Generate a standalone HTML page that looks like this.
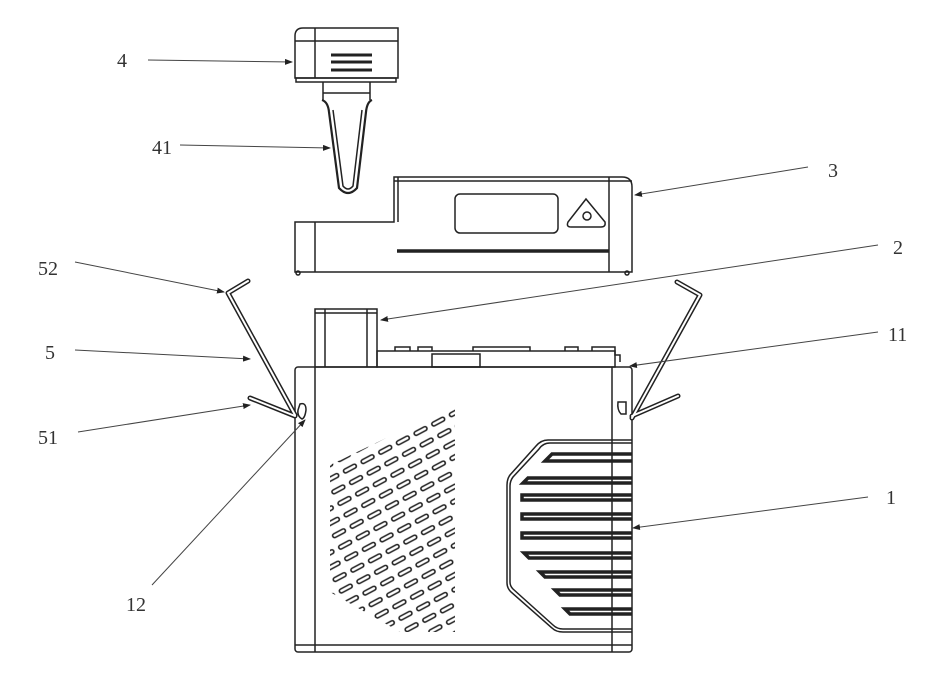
<!DOCTYPE html>
<html><head><meta charset="utf-8"><style>
html,body{margin:0;padding:0;background:#fff;}
svg{display:block;}
text{font-family:"Liberation Serif",serif;font-size:20px;fill:#333;}
</style></head><body>
<svg width="932" height="682" viewBox="0 0 932 682" xmlns="http://www.w3.org/2000/svg">
<defs>
<marker id="a" markerWidth="8" markerHeight="6" refX="7" refY="3" orient="auto"><path d="M0,0L8,3L0,6z" fill="#222"/></marker>
<pattern id="h" width="20" height="13" patternUnits="userSpaceOnUse" patternTransform="rotate(-28)">
<rect x="2" y="4" width="14" height="4" rx="2" fill="none" stroke="#222" stroke-width="1.6"/>
</pattern>
<clipPath id="hc"><polygon points="330,465 455,405 455,632 400,632 330,592"/></clipPath>
</defs>
<g fill="none" stroke="#222" stroke-width="1.5">
<!-- device 4 -->
<path d="M303,28 H398 V78 H295 V36 Q295,28 303,28Z"/>
<line x1="315" y1="28" x2="315" y2="78"/>
<line x1="295" y1="41" x2="398" y2="41"/>
<rect x="296" y="78" width="100" height="4"/>
<g stroke-width="3"><line x1="331" y1="55" x2="372" y2="55"/><line x1="331" y1="62" x2="372" y2="62"/><line x1="331" y1="70" x2="372" y2="70"/></g>
<path d="M323,82 V100 M370,82 V100 M323,93 H370"/>
<path d="M322,100 Q328,102 329,112 L339,188 Q348,198 357,188 L366,112 Q367,102 372,100" stroke-width="2.2"/>
<path d="M333,110 L343,186 Q348,192 353,186 L362,110"/>
<!-- device 3 -->
<path d="M394,177 H622 Q632,177 632,187 V272 H295 V222 H394 Z"/>
<line x1="394" y1="181" x2="632" y2="181"/>
<line x1="398" y1="177" x2="398" y2="222"/>
<line x1="315" y1="222" x2="315" y2="272"/>
<line x1="609" y1="177" x2="609" y2="272"/>
<rect x="455" y="194" width="103" height="39" rx="5"/>
<path d="M586,199 L605,222 Q606,227 601,227 H571 Q566,227 568,222Z"/>
<circle cx="587" cy="216" r="4"/>
<line x1="397" y1="251" x2="609" y2="251" stroke-width="3.5"/>
<circle cx="298" cy="273" r="2"/><circle cx="627" cy="273" r="2"/>
<!-- main box -->
<rect x="295" y="367" width="337" height="285" rx="3"/>
<line x1="315" y1="367" x2="315" y2="652"/>
<line x1="612" y1="367" x2="612" y2="652"/>
<line x1="295" y1="645" x2="632" y2="645"/>
<!-- part 2 -->
<rect x="315" y="309" width="62" height="58"/>
<line x1="315" y1="313" x2="377" y2="313"/>
<line x1="325" y1="309" x2="325" y2="367"/>
<line x1="367" y1="309" x2="367" y2="367"/>
<!-- top plate -->
<rect x="377" y="351" width="238" height="16"/>
<path d="M395,351 V347 H410 V351 M418,351 V347 H432 V351 M473,351 V347 H530 V351 M565,351 V347 H578 V351 M592,351 V347 H615 V355 H620 V362" />
<rect x="432" y="354" width="48" height="13"/>
<!-- hinges -->
<path d="M300,404 Q306,402 306,410 Q305,418 302,419 Q297,416 298,410Z"/>
<path d="M618,402 H626 L626,414 H621 Q617,410 618,402Z"/>
<!-- rods -->
<g stroke-width="5" stroke-linecap="round" stroke-linejoin="round">
<polyline points="248,281 228,293 295,415"/>
<line x1="250" y1="398" x2="295" y2="416"/>
<polyline points="677,282 700,295 632,418"/>
<line x1="678" y1="396" x2="632" y2="416"/>
</g>
<g stroke="#fff" stroke-width="2" stroke-linecap="round" stroke-linejoin="round">
<polyline points="248,281 228,293 295,415"/>
<line x1="250" y1="398" x2="295" y2="416"/>
<polyline points="677,282 700,295 632,418"/>
<line x1="678" y1="396" x2="632" y2="416"/>
</g>
<!-- right panel -->
<path d="M632,440 H548 Q541,440 536,446 L510,475 Q507,479 507,485 V583 Q507,588 511,592 L552,628 Q556,632 563,632 H632"/>
<path d="M632,443 H550 Q543,443 539,449 L513,477 Q510,481 510,486 V582 Q510,586 513,589 L553,625 Q557,629 563,629 H632"/>
<g stroke-width="3.5">
<path d="M632,454 H552 L545,461 H632"/>
<path d="M632,478 H528 L523,483 H632"/>
<path d="M632,495 H522 V500 H632"/>
<path d="M632,514 H522 V519 H632"/>
<path d="M632,533 H522 V538 H632"/>
<path d="M632,553 H524 L529,558 H632"/>
<path d="M632,572 H540 L545,577 H632"/>
<path d="M632,590 H555 L560,595 H632"/>
<path d="M632,609 H565 L570,614 H632"/>
</g>
</g>
<rect x="320" y="395" width="140" height="240" fill="url(#h)" clip-path="url(#hc)"/>
<!-- leaders -->
<g stroke="#444" stroke-width="1" fill="none" marker-end="url(#a)">
<line x1="148" y1="60" x2="292" y2="62"/>
<line x1="180" y1="145" x2="330" y2="148"/>
<line x1="808" y1="167" x2="635" y2="195"/>
<line x1="75" y1="262" x2="224" y2="292"/>
<line x1="878" y1="245" x2="381" y2="320"/>
<line x1="75" y1="350" x2="250" y2="359"/>
<line x1="878" y1="332" x2="630" y2="366"/>
<line x1="78" y1="432" x2="250" y2="405"/>
<line x1="868" y1="497" x2="633" y2="528"/>
<line x1="152" y1="585" x2="305" y2="420"/>
</g>
<text x="117" y="67">4</text>
<text x="152" y="154">41</text>
<text x="828" y="177">3</text>
<text x="38" y="275">52</text>
<text x="893" y="254">2</text>
<text x="45" y="359">5</text>
<text x="888" y="341">11</text>
<text x="38" y="444">51</text>
<text x="886" y="504">1</text>
<text x="126" y="611">12</text>
</svg>
</body></html>
